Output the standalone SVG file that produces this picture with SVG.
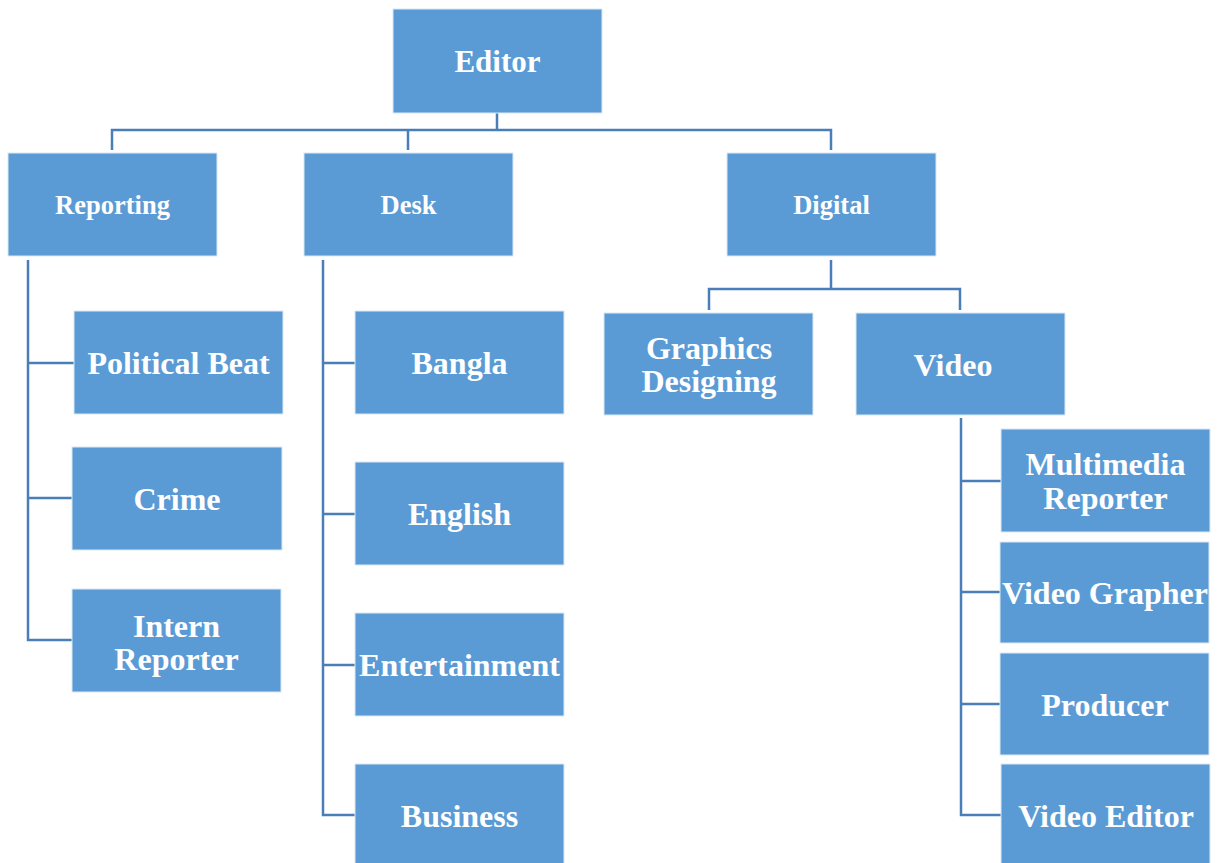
<svg xmlns="http://www.w3.org/2000/svg" width="1218" height="863" viewBox="0 0 1218 863">
<style>
.box{fill:#5B9BD5;stroke:#DCE8F5;stroke-width:1}
.t{fill:#ffffff;font-family:"Liberation Serif","Times New Roman",serif;font-weight:bold;font-size:32px;text-anchor:middle}
.e{font-size:31px}
.s{font-size:26.5px}
.c{fill:none;stroke:#4A7EB8;stroke-width:2.5}
</style>
<rect width="1218" height="863" fill="#ffffff"/>
<g id="connectors">
<path class="c" d="M497 113V130M112 150V130H831V150M408 130V150"/>
<path class="c" d="M28 260V640H72M28 363H74M28 498H72"/>
<path class="c" d="M323 260V815H355M323 363H355M323 514H355M323 665H355"/>
<path class="c" d="M831 260V289M709 310V289H960V310"/>
<path class="c" d="M961 418V815H1001M961 481H1001M961 592H1000M961 704H1000"/>
</g>
<g id="editor"><rect class="box" x="393" y="9" width="209" height="104"/><text class="t e" x="497.5" y="72">Editor</text></g>
<g id="reporting"><rect class="box" x="8" y="153" width="209" height="103"/><text class="t s" x="112.5" y="214">Reporting</text></g>
<g id="desk"><rect class="box" x="304" y="153" width="209" height="103"/><text class="t s" x="408.5" y="214">Desk</text></g>
<g id="digital"><rect class="box" x="727" y="153" width="209" height="103"/><text class="t s" x="831.5" y="214">Digital</text></g>
<g id="political-beat"><rect class="box" x="74" y="311" width="209" height="103"/><text class="t" x="178.5" y="374">Political Beat</text></g>
<g id="crime"><rect class="box" x="72" y="447" width="210" height="103"/><text class="t" x="177" y="510">Crime</text></g>
<g id="intern-reporter"><rect class="box" x="72" y="589" width="209" height="103"/><text class="t" x="176.5" y="637">Intern</text><text class="t" x="176.5" y="670">Reporter</text></g>
<g id="bangla"><rect class="box" x="355" y="311" width="209" height="103"/><text class="t" x="459.5" y="374">Bangla</text></g>
<g id="english"><rect class="box" x="355" y="462" width="209" height="103"/><text class="t" x="459.5" y="525">English</text></g>
<g id="entertainment"><rect class="box" x="355" y="613" width="209" height="103"/><text class="t" x="459.5" y="676">Entertainment</text></g>
<g id="business"><rect class="box" x="355" y="764" width="209" height="103"/><text class="t" x="459.5" y="827">Business</text></g>
<g id="graphics-designing"><rect class="box" x="604" y="313" width="209" height="102"/><text class="t" x="709" y="359">Graphics</text><text class="t" x="709" y="392">Designing</text></g>
<g id="video"><rect class="box" x="856" y="313" width="209" height="102"/><text class="t" x="953" y="376">Video</text></g>
<g id="multimedia-reporter"><rect class="box" x="1001" y="429" width="209" height="103"/><text class="t" x="1105.5" y="475">Multimedia</text><text class="t" x="1105.5" y="509">Reporter</text></g>
<g id="video-grapher"><rect class="box" x="1000" y="542" width="209" height="101"/><text class="t" x="1105" y="604">Video Grapher</text></g>
<g id="producer"><rect class="box" x="1000" y="653" width="209" height="102"/><text class="t" x="1105" y="716">Producer</text></g>
<g id="video-editor"><rect class="box" x="1001" y="764" width="209" height="103"/><text class="t" x="1106" y="827">Video Editor</text></g>
</svg>
